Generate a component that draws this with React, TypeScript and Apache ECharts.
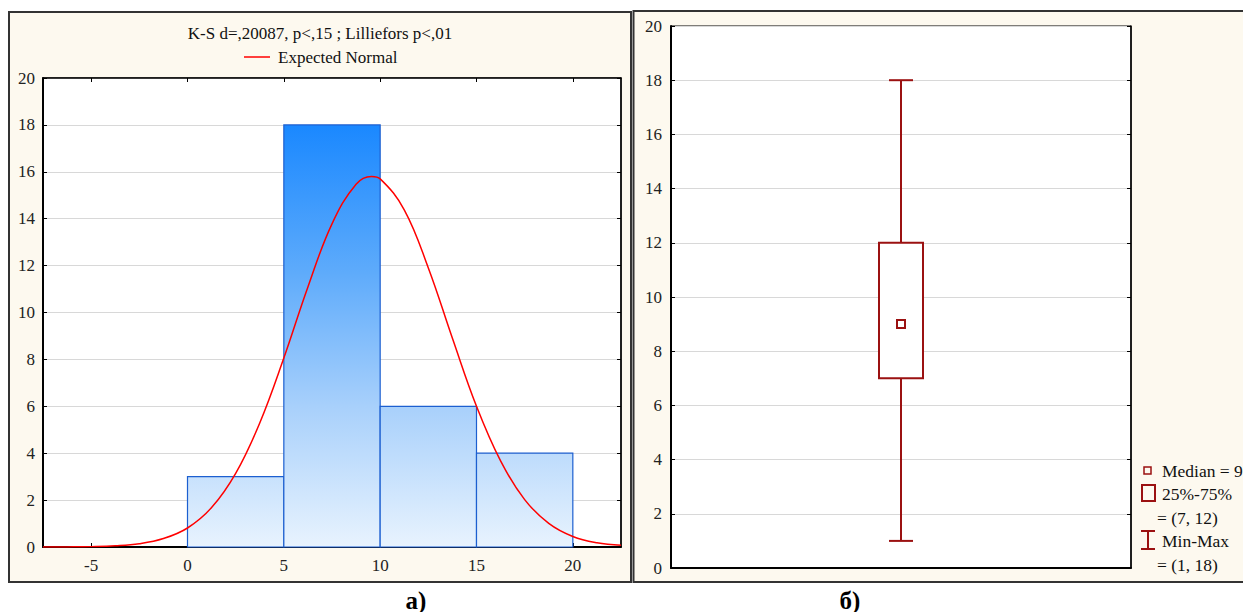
import React, { useEffect, useRef } from "react";
import * as echarts from "echarts";

// Histogram (left panel)
const binStarts = [0, 5, 10, 15];
const binEnds = [5, 10, 15, 20];
const binCounts = [3, 18, 6, 4];
const xTickValues = [-5, 0, 5, 10, 15, 20];

// Expected normal curve
const normalX = [-7.5, -6.25, -5, -3.75, -2.5, -1.25, 0, 1.25, 2.5, 3.75, 5, 6.25, 7.5, 8.75, 9.55, 10, 11.25, 12.5, 13.75, 15, 16.25, 17.5, 18.75, 20, 21.25, 22.5];
const normalY = [0.0, 0.005, 0.016, 0.05, 0.14, 0.36, 0.81, 1.68, 3.14, 5.29, 8.06, 11.09, 13.78, 15.47, 15.8, 15.7, 14.38, 11.9, 8.9, 6.0, 3.67, 2.02, 1.01, 0.45, 0.18, 0.07];

// Box plot (right panel)
const boxMin = 1;
const boxQ1 = 7;
const boxMedian = 9;
const boxQ3 = 12;
const boxMax = 18;

const titleText = "K-S d=,20087, p<,15 ; Lilliefors p<,01";
const legendText = "Expected Normal";
const boxLegend = ["Median = 9", "25%-75%", "= (7, 12)", "Min-Max", "= (1, 18)"];

const FONT = "'Liberation Serif', 'Times New Roman', serif";
const BOX_COLOR = "#9b1111";

export default function App() {
  const ref = useRef<HTMLDivElement>(null);
  useEffect(() => {
    if (!ref.current) return;
    const chart = echarts.init(ref.current, undefined, { renderer: "svg" });
    const labelStyle = { fontFamily: FONT, fontSize: 17, color: "#222" };
    const option: any = {
      animation: false,
      backgroundColor: "#ffffff",
      grid: [
        { left: 43, top: 78, width: 578, height: 469, show: true, backgroundColor: "#ffffff", borderColor: "#000", borderWidth: 1 },
        { left: 671, top: 26, width: 460, height: 542, show: true, backgroundColor: "#ffffff", borderColor: "#000", borderWidth: 1 },
      ],
      xAxis: [
        {
          gridIndex: 0, type: "value", min: -7.5, max: 22.5, position: "bottom",
          axisLine: { show: true, onZero: false, lineStyle: { color: "#000", width: 2 } },
          axisTick: { show: true, inside: true, length: 4, customValues: xTickValues, lineStyle: { color: "#000" } },
          axisLabel: { show: true, customValues: xTickValues, margin: 10, ...labelStyle },
          splitLine: { show: false },
        },
        {
          gridIndex: 1, type: "category", data: ["v"], position: "bottom",
          axisLine: { show: true, onZero: false, lineStyle: { color: "#000", width: 2 } },
          axisTick: { show: false }, axisLabel: { show: false }, splitLine: { show: false },
        },
        {
          gridIndex: 0, type: "value", min: -7.5, max: 22.5, position: "top",
          axisLine: { show: true, onZero: false, lineStyle: { color: "#000", width: 1.5 } },
          axisTick: { show: true, inside: true, length: 4, customValues: xTickValues, lineStyle: { color: "#000" } },
          axisLabel: { show: false }, splitLine: { show: false },
        },
      ],
      yAxis: [
        {
          gridIndex: 0, type: "value", min: 0, max: 20, interval: 2, position: "left",
          axisLine: { show: true, onZero: false, lineStyle: { color: "#000", width: 2 } },
          axisTick: { show: true, inside: true, length: 4, lineStyle: { color: "#000" } },
          axisLabel: { show: true, margin: 8, ...labelStyle },
          splitLine: { show: true, lineStyle: { color: "#d8d8d8", width: 1 } },
        },
        {
          gridIndex: 1, type: "value", min: 0, max: 20, interval: 2, position: "left",
          axisLine: { show: true, onZero: false, lineStyle: { color: "#000", width: 2 } },
          axisTick: { show: true, inside: true, length: 4, lineStyle: { color: "#000" } },
          axisLabel: { show: true, margin: 9, ...labelStyle },
          splitLine: { show: true, lineStyle: { color: "#d8d8d8", width: 1 } },
        },
        {
          gridIndex: 0, type: "value", min: 0, max: 20, interval: 2, position: "right",
          axisLine: { show: true, onZero: false, lineStyle: { color: "#000", width: 1.5 } },
          axisTick: { show: true, inside: true, length: 4, lineStyle: { color: "#000" } },
          axisLabel: { show: false }, splitLine: { show: false },
        },
        {
          gridIndex: 1, type: "value", min: 0, max: 20, interval: 2, position: "right",
          axisLine: { show: true, onZero: false, lineStyle: { color: "#000", width: 1.5 } },
          axisTick: { show: true, inside: true, length: 4, lineStyle: { color: "#000" } },
          axisLabel: { show: false }, splitLine: { show: false },
        },
      ],
      series: [
        {
          type: "custom",
          xAxisIndex: 0, yAxisIndex: 0,
          data: binStarts.map((s, i) => [s, binEnds[i], binCounts[i]]),
          renderItem: (params: any, api: any) => {
            const p1 = api.coord([api.value(0), api.value(2)]);
            const p2 = api.coord([api.value(1), 0]);
            const yTop = api.coord([0, 18])[1];
            const yBot = api.coord([0, 0])[1];
            return {
              type: "rect",
              shape: { x: p1[0], y: p1[1], width: p2[0] - p1[0], height: p2[1] - p1[1] },
              style: {
                fill: new echarts.graphic.LinearGradient(0, yTop, 0, yBot, [
                  { offset: 0, color: "#1a88ff" },
                  { offset: 0.35, color: "#5eabfb" },
                  { offset: 0.667, color: "#a8d0fb" },
                  { offset: 1, color: "#e8f3fe" },
                ], true),
                stroke: "#1c5fd0",
                lineWidth: 1.2,
              },
            };
          },
          z: 2,
        },
        {
          type: "line",
          xAxisIndex: 0, yAxisIndex: 0,
          data: normalX.map((x, i) => [x, normalY[i]]),
          smooth: 0.4,
          showSymbol: false,
          lineStyle: { color: "#ff0000", width: 1.5 },
          z: 5,
        },
        {
          type: "custom",
          xAxisIndex: 1, yAxisIndex: 1,
          data: [[0, boxMin, boxQ1, boxMedian, boxQ3, boxMax]],
          renderItem: (params: any, api: any) => {
            const cx = api.coord([0, 0])[0];
            const yMin = api.coord([0, api.value(1)])[1];
            const yQ1 = api.coord([0, api.value(2)])[1];
            const yMed = api.coord([0, api.value(3)])[1];
            const yQ3 = api.coord([0, api.value(4)])[1];
            const yMax = api.coord([0, api.value(5)])[1];
            const st = { stroke: BOX_COLOR, lineWidth: 2, fill: "none" };
            return {
              type: "group",
              children: [
                { type: "line", shape: { x1: cx, y1: yMax, x2: cx, y2: yQ3 }, style: st },
                { type: "line", shape: { x1: cx, y1: yQ1, x2: cx, y2: yMin }, style: st },
                { type: "line", shape: { x1: cx - 12, y1: yMax, x2: cx + 12, y2: yMax }, style: st },
                { type: "line", shape: { x1: cx - 12, y1: yMin, x2: cx + 12, y2: yMin }, style: st },
                { type: "rect", shape: { x: cx - 22, y: yQ3, width: 44, height: yQ1 - yQ3 }, style: { stroke: BOX_COLOR, lineWidth: 2, fill: "#ffffff" } },
                { type: "rect", shape: { x: cx - 4, y: yMed - 4, width: 8, height: 8 }, style: { stroke: BOX_COLOR, lineWidth: 2, fill: "#ffffff" } },
              ],
            };
          },
          z: 3,
        },
      ],
      graphic: [
        { type: "rect", z: -10, silent: true, shape: { x: 9, y: 12, width: 622, height: 570 }, style: { fill: "#fdf9ef", stroke: "#333", lineWidth: 2 } },
        { type: "rect", z: -10, silent: true, shape: { x: 633.5, y: 11, width: 612, height: 571 }, style: { fill: "#fdf9ef", stroke: "#333", lineWidth: 2 } },
        { type: "text", x: 320, y: 33, style: { text: titleText, font: `17px ${FONT}`, fill: "#111", align: "center", verticalAlign: "middle" } },
        { type: "line", shape: { x1: 244, y1: 57, x2: 270, y2: 57 }, style: { stroke: "#ff0000", lineWidth: 1.5 } },
        { type: "text", x: 278, y: 57, style: { text: legendText, font: `17px ${FONT}`, fill: "#111", align: "left", verticalAlign: "middle" } },
        // box legend
        { type: "rect", shape: { x: 1144, y: 467, width: 7, height: 7 }, style: { stroke: BOX_COLOR, lineWidth: 1.5, fill: "none" } },
        { type: "rect", shape: { x: 1142, y: 485, width: 13, height: 16 }, style: { stroke: BOX_COLOR, lineWidth: 2, fill: "none" } },
        { type: "line", shape: { x1: 1148, y1: 531, x2: 1148, y2: 549 }, style: { stroke: BOX_COLOR, lineWidth: 2 } },
        { type: "line", shape: { x1: 1141, y1: 531, x2: 1155, y2: 531 }, style: { stroke: BOX_COLOR, lineWidth: 2 } },
        { type: "line", shape: { x1: 1141, y1: 549, x2: 1155, y2: 549 }, style: { stroke: BOX_COLOR, lineWidth: 2 } },
        { type: "text", x: 1162, y: 471, style: { text: boxLegend[0], font: `17.5px ${FONT}`, fill: "#111", verticalAlign: "middle" } },
        { type: "text", x: 1162, y: 494, style: { text: boxLegend[1], font: `17.5px ${FONT}`, fill: "#111", verticalAlign: "middle" } },
        { type: "text", x: 1157, y: 518, style: { text: boxLegend[2], font: `17.5px ${FONT}`, fill: "#111", verticalAlign: "middle" } },
        { type: "text", x: 1162, y: 541, style: { text: boxLegend[3], font: `17.5px ${FONT}`, fill: "#111", verticalAlign: "middle" } },
        { type: "text", x: 1157, y: 565, style: { text: boxLegend[4], font: `17.5px ${FONT}`, fill: "#111", verticalAlign: "middle" } },
        // panel captions
        { type: "text", x: 416, y: 600, style: { text: "а)", font: `bold 25px ${FONT}`, fill: "#000", align: "center", verticalAlign: "middle" } },
        { type: "text", x: 850, y: 600, style: { text: "б)", font: `bold 25px ${FONT}`, fill: "#000", align: "center", verticalAlign: "middle" } },
      ],
    };
    chart.setOption(option);
    return () => chart.dispose();
  }, []);
  return <div ref={ref} style={{ position: "absolute", left: 0, top: 0, width: 1243, height: 612 }} />;
}
